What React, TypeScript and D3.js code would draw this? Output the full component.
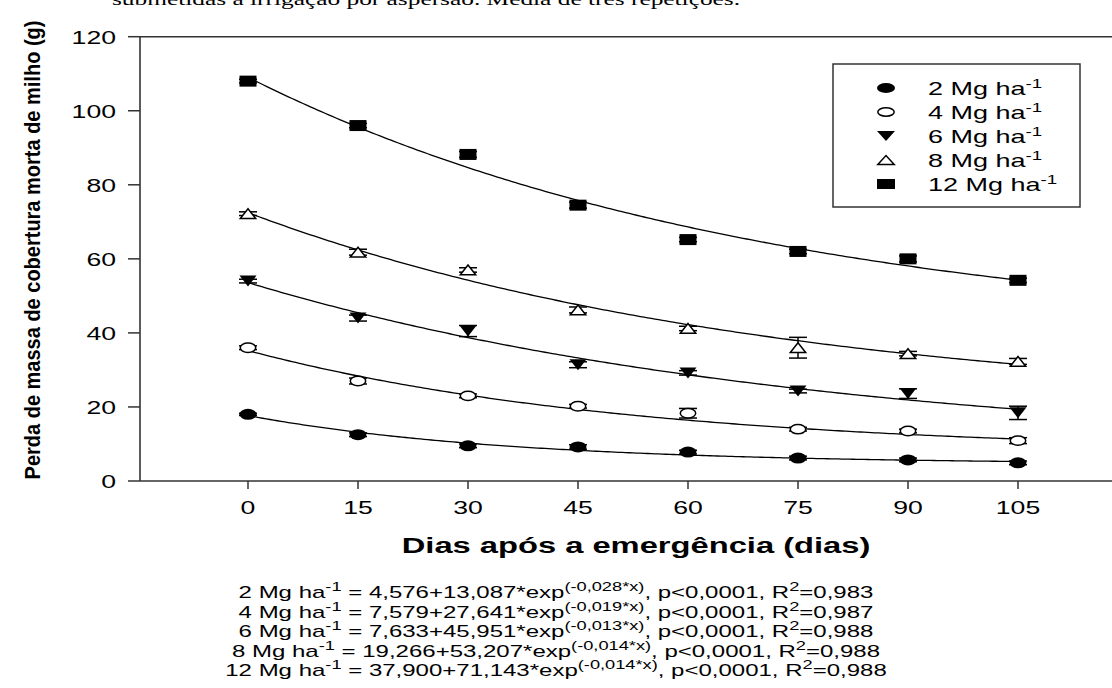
import React from "react";
import * as d3 from "d3";

const days = [0, 15, 30, 45, 60, 75, 90, 105];
const yTicks = [0, 20, 40, 60, 80, 100, 120];
const seriesNames = ["2 Mg ha", "4 Mg ha", "6 Mg ha", "8 Mg ha", "12 Mg ha"];
const seriesShapes = ["circleFilled", "circleOpen", "triDown", "triUpOpen", "square"];
const mean2 = [18, 12.5, 9.5, 9.2, 7.8, 6.2, 5.7, 4.9];
const mean4 = [36, 27, 23, 20.2, 18.3, 14, 13.5, 10.9];
const mean6 = [54, 44, 40.5, 31.4, 29.2, 24.3, 23.6, 18.4];
const mean8 = [72.2, 61.8, 57, 46.2, 41.2, 36, 34.4, 32.3];
const mean12 = [108, 96, 88.2, 74.5, 65.2, 62, 60, 54.2];
const err2 = [0.3, 0.5, 0.5, 0.6, 0.5, 0.5, 0.5, 0.5];
const err4 = [0.5, 0.8, 0.5, 0.5, 1.3, 0.5, 0.5, 0.8];
const err6 = [0.5, 0.8, 1.5, 0.8, 0.6, 0.5, 1.3, 1.8];
const err8 = [0.5, 0.8, 0.6, 0.8, 0.6, 2.8, 0.6, 0.8];
const err12 = [0.5, 0.6, 0.8, 0.8, 0.6, 0.6, 0.8, 0.6];
// fitted model: y = a + b*exp(c*x)
const fitA = [4.576, 7.579, 7.633, 19.266, 37.9];
const fitB = [13.087, 27.641, 45.951, 53.207, 71.143];
const fitC = [-0.028, -0.019, -0.013, -0.014, -0.014];
const eqA = ["4,576", "7,579", "7,633", "19,266", "37,900"];
const eqB = ["13,087", "27,641", "45,951", "53,207", "71,143"];
const eqC = ["-0,028", "-0,019", "-0,013", "-0,014", "-0,014"];
const eqR2 = ["0,983", "0,987", "0,988", "0,988", "0,988"];

const means = [mean2, mean4, mean6, mean8, mean12];
const errs = [err2, err4, err6, err8, err12];

const SANS = "Arial, 'Liberation Sans', Helvetica, sans-serif";

const x = d3.scaleLinear().domain([0, 105]).range([248, 1018]);
const y = d3.scaleLinear().domain([0, 120]).range([481, 36.7]);

function Marker({ shape, cx, cy, w = 17, h = 11 }: { shape: string; cx: number; cy: number; w?: number; h?: number }) {
  if (shape === "circleFilled")
    return <ellipse cx={cx} cy={cy} rx={w / 2} ry={h / 2} fill="#000" />;
  if (shape === "circleOpen")
    return <ellipse cx={cx} cy={cy} rx={w / 2 - 0.8} ry={h / 2 - 0.8} fill="#fff" stroke="#000" strokeWidth={1.5} />;
  if (shape === "triDown")
    return (
      <path
        d={`M${cx - w / 2},${cy - h / 2}L${cx + w / 2},${cy - h / 2}L${cx},${cy + h / 2}Z`}
        fill="#000"
      />
    );
  if (shape === "triUpOpen")
    return (
      <path
        d={`M${cx - w / 2 + 0.8},${cy + h / 2 - 0.6}L${cx + w / 2 - 0.8},${cy + h / 2 - 0.6}L${cx},${cy - h / 2 + 0.6}Z`}
        fill="#fff"
        stroke="#000"
        strokeWidth={1.5}
      />
    );
  return <rect x={cx - w / 2} y={cy - h / 2} width={w} height={h} fill="#000" />;
}

function SText({
  x0,
  y0,
  s,
  anchor = "start",
  size,
  weight = "normal",
  family = SANS,
  children,
}: {
  x0: number;
  y0: number;
  s: number;
  anchor?: string;
  size: number;
  weight?: string;
  family?: string;
  children: React.ReactNode;
}) {
  return (
    <text
      transform={`translate(${x0},${y0}) scale(${s},1)`}
      textAnchor={anchor as any}
      fontSize={size}
      fontWeight={weight}
      fontFamily={family}
      fill="#000"
    >
      {children}
    </text>
  );
}

export default function App() {
  const line = d3
    .line<number>()
    .x((d) => x(d))
    .curve(d3.curveLinear);
  const xs = d3.range(0, 105.01, 0.5);
  const S = 1.52;
  const eqSize = 15.8;
  const supSize = 12;
  const legSize = 18;

  return (
    <svg
      width={1112}
      height={688}
      style={{ position: "absolute", left: 0, top: 0, background: "#fff" }}
    >
      <rect width={1112} height={688} fill="#fff" />
      {/* cut-off caption from page */}
      <SText x0={112} y0={4.5} s={1.45} size={17.5} family="'Liberation Serif', 'Times New Roman', serif">
        submetidas à irrigação por aspersão. Média de três repetições.
      </SText>

      {/* axes frame */}
      <line x1={140} x2={1112} y1={y(120)} y2={y(120)} stroke="#333" strokeWidth={1.6} />
      <line x1={140} x2={1112} y1={y(0)} y2={y(0)} stroke="#333" strokeWidth={1.6} />
      <line x1={140} x2={140} y1={y(120)} y2={y(0)} stroke="#333" strokeWidth={1.6} />

      {yTicks.map((t) => (
        <g key={"y" + t}>
          <line x1={128} x2={140} y1={y(t)} y2={y(t)} stroke="#333" strokeWidth={1.5} />
          <SText x0={116} y0={y(t) + 7} s={1.4} anchor="end" size={19}>
            {t}
          </SText>
        </g>
      ))}
      {days.map((t) => (
        <g key={"x" + t}>
          <line x1={x(t)} x2={x(t)} y1={y(0)} y2={y(0) + 8} stroke="#333" strokeWidth={1.5} />
          <SText x0={x(t)} y0={514} s={1.4} anchor="middle" size={19}>
            {t}
          </SText>
        </g>
      ))}

      {/* axis titles */}
      <SText x0={636} y0={553} s={S} anchor="middle" size={21.5} weight="bold">
        Dias após a emergência (dias)
      </SText>
      <text
        transform={`translate(40,250) rotate(-90) scale(1,1.1)`}
        textAnchor="middle"
        fontSize={20}
        fontWeight="bold"
        fontFamily={SANS}
      >
        Perda de massa de cobertura morta de milho (g)
      </text>

      {/* fitted curves */}
      {fitA.map((a, i) => {
        const path = line.y((d) => y(a + fitB[i] * Math.exp(fitC[i] * d)))(xs) || "";
        return <path key={"c" + i} d={path} fill="none" stroke="#000" strokeWidth={1.3} />;
      })}

      {/* error bars and markers */}
      {means.map((ser, i) => (
        <g key={"s" + i}>
          {ser.map((v, j) => {
            const e = errs[i][j];
            const cx = x(days[j]);
            return (
              <g key={j}>
                <line x1={cx} x2={cx} y1={y(v + e)} y2={y(v - e)} stroke="#000" strokeWidth={1.5} />
                <line x1={cx - 9} x2={cx + 9} y1={y(v + e)} y2={y(v + e)} stroke="#000" strokeWidth={1.5} />
                <line x1={cx - 9} x2={cx + 9} y1={y(v - e)} y2={y(v - e)} stroke="#000" strokeWidth={1.5} />
              </g>
            );
          })}
          {ser.map((v, j) => (
            <Marker key={"m" + j} shape={seriesShapes[i]} cx={x(days[j])} cy={y(v)} />
          ))}
        </g>
      ))}

      {/* legend */}
      <rect x={833} y={64} width={247} height={143} fill="#fff" stroke="#333" strokeWidth={1.5} />
      {seriesNames.map((n, i) => {
        const ly = 88 + i * 24;
        return (
          <g key={"l" + i}>
            <Marker shape={seriesShapes[i]} cx={886} cy={ly} w={18} h={10} />
            <SText x0={928} y0={ly + 6.5} s={1.5} size={legSize}>
              {n}
              <tspan fontSize={12.5} dy={-7}>
                -1
              </tspan>
            </SText>
          </g>
        );
      })}

      {/* equations */}
      {seriesNames.map((n, i) => (
        <SText key={"e" + i} x0={556} y0={598 + i * 19.5} s={S} anchor="middle" size={eqSize}>
          {n}
          <tspan fontSize={supSize} dy={-7}>
            -1
          </tspan>
          <tspan dy={7}>{` = ${eqA[i]}+${eqB[i]}*exp`}</tspan>
          <tspan fontSize={supSize} dy={-7}>
            {`(${eqC[i]}*x)`}
          </tspan>
          <tspan dy={7}>{", p<0,0001, R"}</tspan>
          <tspan fontSize={supSize} dy={-7}>
            2
          </tspan>
          <tspan dy={7}>{`=${eqR2[i]}`}</tspan>
        </SText>
      ))}
    </svg>
  );
}
